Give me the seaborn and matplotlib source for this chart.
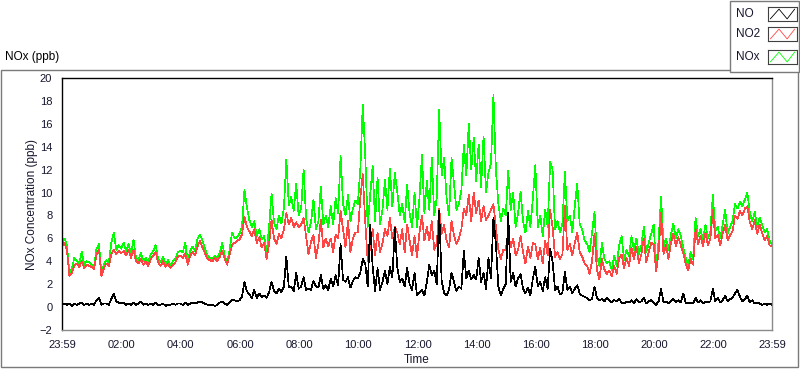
import numpy as np
import pandas as pd
import matplotlib.pyplot as plt
import seaborn as sns
from matplotlib.patches import Rectangle

sns.set_style("white")
plt.rcParams['font.family'] = ['Liberation Sans', 'DejaVu Sans']

# one sample every 5 minutes, 23:59 -> 23:59 (minutes since start)
minutes = np.arange(0, 1441, 5)

# NO2 (ppb), one row per hour
no2 = [
    5.3, 5.6, 5.0, 2.7, 3.0, 3.6, 3.8, 3.5, 4.0, 3.4, 3.7, 3.6,
    3.5, 3.3, 4.6, 5.0, 2.7, 3.4, 3.8, 3.6, 4.6, 5.0, 4.6, 4.9,
    4.7, 4.9, 4.5, 5.0, 4.3, 5.0, 4.0, 3.8, 4.2, 3.7, 4.0, 3.6,
    4.2, 4.5, 4.8, 3.9, 3.6, 4.0, 3.5, 3.8, 3.4, 3.7, 3.9, 4.4,
    4.5, 4.3, 4.7, 3.7, 4.5, 4.8, 4.5, 5.3, 5.8, 5.2, 4.7, 4.2,
    4.1, 4.0, 4.3, 4.0, 4.4, 4.9, 4.2, 3.7, 4.6, 5.4, 5.6, 5.8,
    5.9, 6.3, 7.9, 7.0, 6.6, 6.2, 6.8, 5.6, 6.1, 5.2, 5.6, 4.2,
    5.5, 7.6, 6.0, 5.5, 6.4, 6.0, 6.8, 8.2, 7.2, 7.8, 7.0, 7.4,
    7.0, 7.2, 7.8, 6.2, 4.6, 5.7, 6.3, 4.3, 5.5, 7.6, 5.2, 6.0,
    5.3, 6.0, 4.8, 6.3, 6.0, 8.4, 6.8, 5.2, 7.5, 4.8, 6.0, 6.5,
    6.5, 9.5, 11.6, 7.5, 4.0, 5.2, 6.8, 4.5, 6.5, 4.8, 5.6, 6.8,
    6.2, 7.8, 6.0, 7.0, 6.5, 5.5, 6.8, 4.8, 7.2, 5.8, 4.5, 6.2,
    4.4, 6.5, 8.0, 5.8, 7.0, 5.8, 7.5, 5.0, 5.5, 8.6, 6.4, 7.2,
    5.8, 5.2, 7.5, 6.3, 5.5, 6.0, 6.8, 8.6, 8.0, 9.8, 7.5, 10.0,
    8.2, 9.3, 7.5, 8.8, 7.6, 8.0, 8.5, 9.0, 7.0, 5.0, 4.2, 5.0,
    5.0, 6.5, 5.2, 6.0, 4.5, 5.0, 6.2, 4.8, 3.8, 5.3, 4.3, 5.6,
    5.5, 4.2, 5.2, 3.8, 5.8, 4.5, 8.5, 7.0, 4.4, 4.8, 4.2, 4.6,
    8.8, 5.0, 5.5, 4.5, 5.6, 6.5, 4.8, 4.4, 3.8, 3.6, 2.9, 4.0,
    6.4, 3.2, 2.4, 4.2, 3.3, 2.9, 3.2, 2.7, 3.6, 2.9, 4.3, 4.6,
    3.4, 4.3, 3.6, 5.2, 4.2, 5.3, 3.8, 4.6, 6.0, 3.9, 4.8, 5.6,
    5.5, 3.1, 4.8, 8.2, 4.6, 5.4, 4.2, 5.6, 6.4, 5.3, 6.1, 5.4,
    4.7, 3.8, 3.2, 4.2, 3.7, 6.8, 5.5, 6.2, 5.3, 6.5, 5.4, 6.0,
    8.5, 6.0, 6.3, 5.4, 6.4, 7.2, 5.8, 6.3, 6.6, 8.0, 7.7, 8.4,
    8.0, 8.6, 8.8, 7.4, 6.8, 7.6, 6.4, 7.2, 6.5, 5.8, 6.2, 5.4, 5.3,
]

# NOx (ppb)
nox = [
    5.6, 6.0, 5.4, 3.0, 3.3, 4.3, 4.0, 3.8, 4.8, 3.7, 4.0, 3.9,
    3.7, 3.5, 5.1, 5.5, 2.9, 3.7, 4.1, 3.9, 5.6, 6.5, 5.0, 5.4,
    5.1, 5.6, 4.9, 5.5, 4.6, 5.9, 4.3, 4.1, 4.7, 4.0, 4.3, 3.9,
    4.6, 4.9, 5.4, 4.2, 3.9, 4.4, 3.7, 4.1, 3.6, 4.0, 4.2, 4.8,
    4.9, 4.8, 5.6, 4.0, 4.9, 5.3, 4.9, 6.0, 6.3, 5.8, 5.1, 4.5,
    4.3, 4.2, 4.5, 4.3, 4.7, 5.6, 4.5, 3.9, 5.0, 6.5, 6.0, 6.1,
    6.4, 7.0, 10.2, 8.7, 7.6, 7.0, 7.5, 6.2, 6.8, 5.9, 6.2, 4.7,
    7.0, 9.9, 7.4, 6.8, 8.0, 7.3, 8.6, 12.9, 8.9, 9.6, 8.4, 10.8,
    8.0, 8.6, 12.0, 7.8, 6.5, 7.4, 9.4, 6.8, 7.5, 10.5, 7.2, 8.0,
    7.0, 8.8, 7.2, 9.5, 8.2, 13.2, 9.0, 8.0, 9.8, 7.5, 8.6, 9.3,
    9.0, 12.0, 17.7, 13.3, 7.0, 9.8, 12.3, 7.5, 11.3, 7.2, 8.5, 11.1,
    8.5, 12.1, 8.8, 11.7, 10.1, 8.0, 9.0, 7.4, 10.7, 8.2, 7.0, 10.0,
    7.0, 9.5, 13.3, 8.2, 11.0, 8.5, 13.0, 8.0, 9.5, 17.2, 11.5, 13.0,
    9.5, 8.0, 13.0, 10.8, 8.5, 9.0, 10.2, 14.2, 11.5, 16.0, 12.0, 14.8,
    11.0, 14.2, 10.5, 14.9, 10.0, 11.8, 12.5, 18.5, 12.0, 9.0, 7.5, 8.6,
    8.0, 11.9, 8.5, 10.0, 7.0, 8.2, 10.1, 7.5, 6.5, 8.4, 7.0, 9.5,
    12.4, 7.0, 8.0, 6.2, 8.5, 7.0, 12.7, 12.0, 6.8, 7.5, 6.5, 7.3,
    11.8, 7.5, 8.0, 6.5, 8.8, 10.8, 7.2, 6.8, 5.8, 5.5, 4.8, 6.5,
    8.3, 4.5, 3.6, 5.6, 4.2, 3.8, 4.0, 3.2, 4.5, 3.6, 5.4, 6.2,
    4.1, 5.0, 4.4, 6.2, 5.0, 6.0, 4.6, 5.4, 7.0, 4.8, 5.6, 6.4,
    7.2, 3.4, 5.8, 9.6, 5.3, 6.0, 5.0, 6.3, 7.3, 6.0, 6.8, 6.2,
    5.2, 4.3, 3.6, 4.8, 4.2, 7.8, 6.2, 6.8, 5.8, 7.2, 6.0, 6.6,
    9.8, 6.6, 7.0, 6.0, 7.2, 8.5, 6.4, 7.0, 7.5, 9.0, 8.6, 9.2,
    8.8, 9.4, 10.0, 8.2, 7.5, 8.3, 7.0, 7.8, 7.2, 6.5, 6.8, 5.8, 5.5,
]

# NO (ppb)
no = [
    0.2, 0.3, 0.2, 0.3, 0.1, 0.3, 0.2, 0.3, 0.4, 0.2, 0.3, 0.2,
    0.3, 0.2, 0.6, 0.8, 0.2, 0.3, 0.3, 0.2, 0.7, 1.2, 0.5, 0.4,
    0.3, 0.4, 0.2, 0.3, 0.2, 0.4, 0.2, 0.3, 0.5, 0.2, 0.3, 0.2,
    0.3, 0.2, 0.4, 0.2, 0.2, 0.3, 0.1, 0.2, 0.2, 0.3, 0.2, 0.3,
    0.3, 0.2, 0.4, 0.2, 0.3, 0.4, 0.3, 0.4, 0.5, 0.4, 0.3, 0.2,
    0.2, 0.2, 0.1, 0.2, 0.4, 0.5, 0.3, 0.2, 0.4, 0.6, 0.6, 0.5,
    0.6, 0.9, 2.2, 1.4, 1.1, 0.8, 1.5, 0.8, 1.2, 0.9, 1.0, 0.8,
    1.3, 2.2, 1.4, 1.2, 1.6, 1.3, 1.8, 4.4, 1.7, 1.8, 1.4, 3.0,
    1.6, 1.8, 2.6, 1.5, 1.6, 1.5, 2.3, 1.8, 1.7, 2.8, 1.6, 1.9,
    1.5, 2.5, 1.8, 2.8, 1.9, 5.5, 2.4, 2.2, 2.6, 1.7, 2.3, 2.6,
    2.5, 3.0, 4.2, 3.8, 1.8, 7.2, 3.6, 1.4, 3.4, 1.5, 2.2, 3.2,
    2.0, 3.5, 2.6, 6.9, 3.5, 2.2, 2.5, 1.8, 3.4, 2.0, 1.5, 3.0,
    1.0, 1.3, 1.5, 1.0, 2.2, 3.7, 2.8, 3.2, 2.0, 8.4, 2.3, 1.2,
    1.0, 1.5, 3.0, 2.2, 1.4, 1.8, 1.6, 4.9, 2.5, 3.2, 2.4, 2.8,
    2.4, 4.3, 2.2, 3.0, 1.6, 4.3, 2.5, 7.8, 5.5, 1.8, 1.0, 1.6,
    2.0, 8.2, 2.2, 3.0, 1.8, 2.5, 2.9, 1.6, 1.2, 1.7, 1.0, 2.5,
    3.5, 1.8, 2.2, 1.4, 2.6, 1.6, 5.1, 4.0, 1.5, 1.8, 1.1, 1.3,
    3.1, 1.5, 1.8, 1.2, 1.6, 1.9, 1.2, 1.0, 0.9, 0.8, 0.6, 0.7,
    1.8, 0.8, 0.6, 0.7, 0.5, 0.8, 0.6, 0.4, 0.6, 0.5, 0.7, 0.4,
    0.3, 0.5, 0.4, 0.6, 0.3, 0.7, 0.4, 0.5, 0.8, 0.3, 0.5, 0.6,
    0.4, 0.2, 0.5, 1.6, 0.4, 0.5, 0.3, 0.5, 0.7, 0.4, 0.6, 0.4,
    1.2, 0.4, 0.3, 0.4, 0.3, 0.8, 0.4, 0.6, 0.3, 0.5, 0.4, 0.5,
    1.6, 0.5, 0.8, 0.4, 0.6, 1.0, 0.5, 0.7, 0.8, 1.2, 1.5, 0.9,
    0.5, 0.7, 1.0, 0.4, 0.6, 0.3, 0.4, 0.3, 0.2, 0.3, 0.2, 0.3, 0.2,
]

tick_minutes = [0, 121, 241, 361, 481, 601, 721, 841, 961, 1081, 1201, 1321, 1440]
tick_labels = ['23:59', '02:00', '04:00', '06:00', '08:00', '10:00', '12:00',
               '14:00', '16:00', '18:00', '20:00', '22:00', '23:59']
minor_minutes = list(range(1, 1440, 15))
y_ticks = list(range(-2, 21, 2))

series = [('NO', no, 'black'), ('NO2', no2, '#ff4444'), ('NOx', nox, '#00ff00')]
txt = '#16162e'

df = pd.DataFrame({'minute': minutes, 'NO': no, 'NO2': no2, 'NOx': nox})

W, H = 800, 369
fig = plt.figure(figsize=(W / 100, H / 100), dpi=100)

# outer panel frame
fig.patches.append(Rectangle((1 / W, 2 / H), 797 / W, 297 / H, transform=fig.transFigure,
                             fill=False, edgecolor='#7a7a7a', lw=1))
fig.text(5 / W, 1 - 57 / H, 'NOx (ppb)', fontsize=8.5, color='black', va='center', ha='left')

ax = fig.add_axes([62 / W, 1 - 330 / H, 710 / W, 252 / H])
# draw NOx first so NO2 and NO sit on top; crisp 1px lines like the original
for name, _, col in reversed(series):
    sns.lineplot(data=df, x='minute', y=name, color=col, linewidth=0.5,
                 estimator=None, ax=ax, legend=False, antialiased=False)

ax.set_xlim(0, 1440)
ax.set_ylim(-2, 20)
ax.set_xticks(tick_minutes)
ax.set_xticklabels(tick_labels)
ax.set_xticks(minor_minutes, minor=True)
ax.set_yticks(y_ticks)
ax.tick_params(axis='both', which='major', direction='out', length=5, width=0.8,
               labelsize=8, colors='black', labelcolor=txt, pad=2)
ax.tick_params(axis='x', which='minor', direction='out', length=3, width=0.8, colors='black')

ax.set_xlabel('Time', fontsize=8.5, color=txt)
ax.set_ylabel('NOx Concentration (ppb)', fontsize=8.5, color=txt)
ax.xaxis.set_label_coords(0.5, -(360 - 330) / 252)
ax.xaxis.label.set_va('center')
ax.yaxis.set_label_coords(-(62 - 32) / 710, 0.5)
ax.yaxis.label.set_va('center')

for side in ['top', 'left']:
    ax.spines[side].set_color('black')
    ax.spines[side].set_linewidth(1)
for side in ['bottom', 'right']:
    ax.spines[side].set_color('#8a8a8a')
    ax.spines[side].set_linewidth(1)

# legend panel in the top right corner
fig.patches.append(Rectangle((730 / W, 1 - 72 / H), 69 / W, 71.5 / H, transform=fig.transFigure,
                             facecolor='white', edgecolor='#7a7a7a', lw=1, zorder=5))
rows = [14, 34, 57]
for (name, _, col), yc in zip(series, rows):
    fig.text(736 / W, 1 - yc / H, name, fontsize=8.5, color=txt, va='center', ha='left', zorder=6)
    sw = fig.add_axes([768 / W, 1 - (yc + 7) / H, 29 / W, 14 / H], zorder=6)
    sw.plot([0.08, 0.38, 0.66, 0.92], [0.15, 0.85, 0.15, 0.85], color=col, lw=0.6)
    sw.set_xlim(0, 1)
    sw.set_ylim(0, 1)
    sw.set_xticks([])
    sw.set_yticks([])
    for s in sw.spines.values():
        s.set_color('#404040')
        s.set_linewidth(0.8)

fig.savefig('out.png', dpi=100)
